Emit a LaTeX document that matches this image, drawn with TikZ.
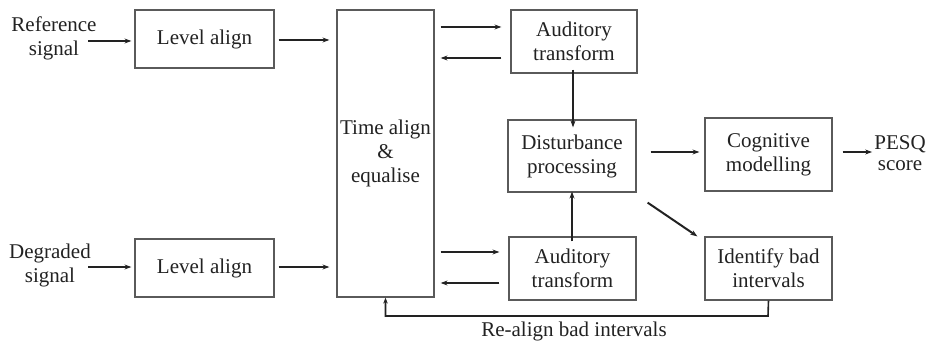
\documentclass[tikz,border=0pt]{standalone}
\usepackage{fontspec}
\setmainfont{Liberation Serif}
\usetikzlibrary{arrows.meta}
\definecolor{ink}{HTML}{222222}
\definecolor{frame}{HTML}{5A5A5A}
\begin{document}
\begin{tikzpicture}[x=1pt,y=-1pt,
  every node/.style={font=\fontsize{21}{24}\selectfont, text=ink, align=center, inner sep=0pt},
  block/.style={draw=frame, line width=1.2pt, fill=white},
  arr/.style={draw=ink, line width=2pt, -{Stealth[length=7pt,width=5pt]}},
  fb/.style={draw=ink, line width=1.6pt}
]
\useasboundingbox (0,0) rectangle (927,342);

% blocks
\node[block, minimum width=139, minimum height=58] (lvlA) at (204.5,39) {Level align};
\node[block, minimum width=139, minimum height=58] (lvlB) at (204.5,268) {Level align};
\node[block, minimum width=97, minimum height=287] (time) at (385.5,153.5) {Time align\\\&\\equalise};
\node[block, minimum width=126, minimum height=63] (audA) at (574,41.5) {Auditory\\transform};
\node[block, minimum width=128, minimum height=72] (dist) at (572,156) {Disturbance\\processing};
\node[block, minimum width=127, minimum height=73] (cog) at (768.5,154.5) {Cognitive\\modelling};
\node[block, minimum width=127, minimum height=63] (audB) at (572.5,268.5) {Auditory\\transform};
\node[block, minimum width=127, minimum height=63] (ident) at (768.5,268.5) {Identify bad\\intervals};

% free texts
\node (refin) at (54,38) {Reference\\signal};
\node (degin) at (50,265) {Degraded\\signal};
\node[font=\fontsize{21}{21}\selectfont] (pesq) at (900,153) {PESQ\\score};
\node (realign) at (574,331) {Re-align bad intervals};

\coordinate (refstart) at (88,41);
\coordinate (degstart) at (88,267);
\coordinate (fbcorner) at (768,316);

% signal inputs
\draw[arr] (refstart) -- ([xshift=-3]lvlA.west |- refstart);
\draw[arr] (degstart) -- ([xshift=-3]lvlB.west |- degstart);

% level align to time align
\draw[arr] ([xshift=4]lvlA.east |- 0,40) -- ([xshift=-7]time.west |- 0,40);
\draw[arr] ([xshift=4]lvlB.east |- 0,267) -- ([xshift=-7]time.west |- 0,267);

% time align <-> auditory transforms
\draw[arr] ([xshift=6]time.east |- 0,27) -- ([xshift=-9]audA.west |- 0,27);
\draw[arr] ([xshift=-9]audA.west |- 0,58) -- ([xshift=6]time.east |- 0,58);
\draw[arr] ([xshift=6]time.east |- 0,252) -- ([xshift=-9]audB.west |- 0,252);
\draw[arr] ([xshift=-9]audB.west |- 0,283) -- ([xshift=6]time.east |- 0,283);

% into and out of disturbance processing
\draw[arr] ([yshift=4]audA.south -| 573,0) -- ([yshift=-8]dist.north -| 573,0);
\draw[arr] ([yshift=-5]audB.north -| 572,0) -- ([yshift=1]dist.south -| 572,0);
\draw[arr] ([xshift=14]dist.east |- 0,152) -- ([xshift=-5]cog.west |- 0,152);
\draw[arr] ([shift={(11,10)}]dist.south east) -- ([shift={(-7,0)}]ident.north west);
\draw[arr] ([xshift=10]cog.east |- 0,152) -- ([xshift=-2]pesq.west |- 0,152);

% re-alignment feedback
\draw[fb, -{Stealth[length=6pt,width=4.5pt]}] (ident.south) -- (fbcorner) -| (time.south);
\end{tikzpicture}
\end{document}
